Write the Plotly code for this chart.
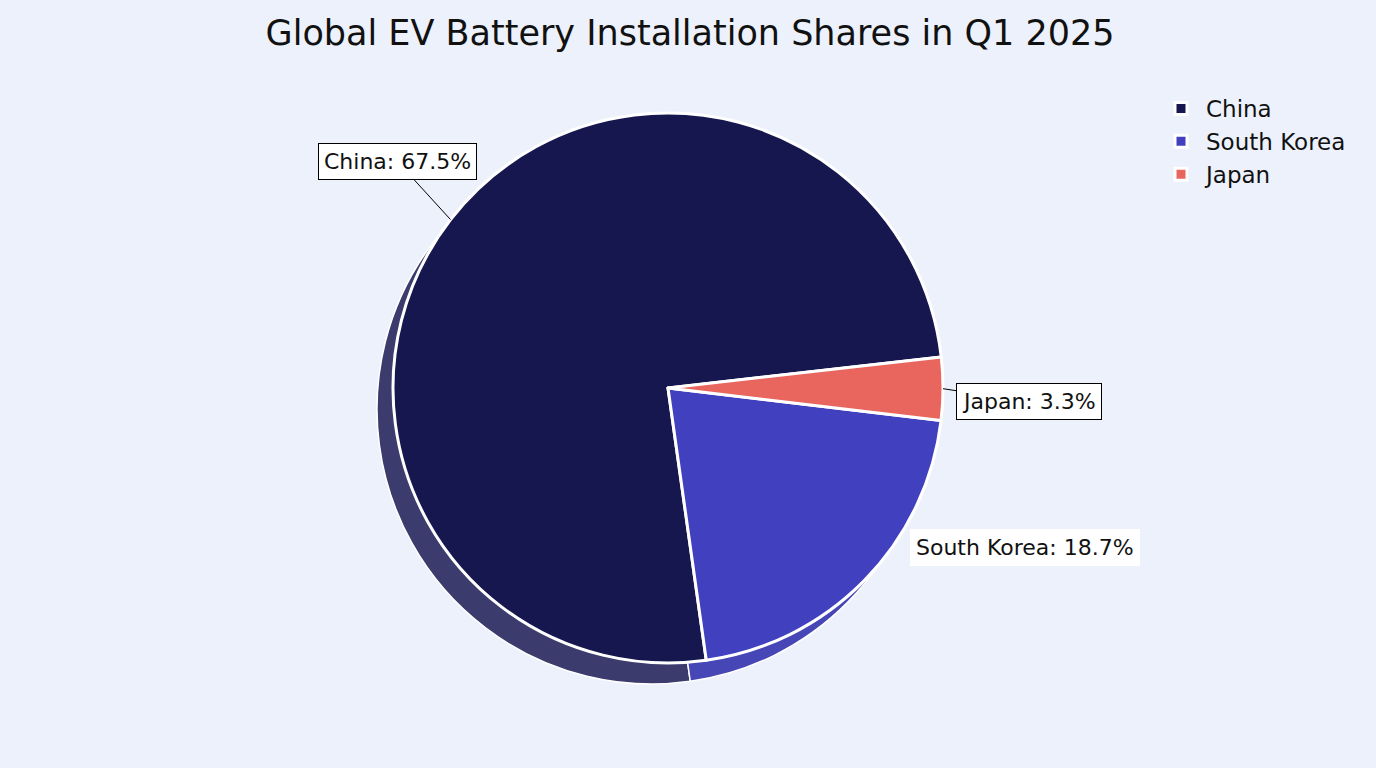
import math
import plotly.graph_objects as go

# ---- data ----
labels = ["China", "South Korea", "Japan"]
shares = [67.5, 18.7, 3.3]
colors = ["#16174f", "#4141c0", "#e9665f"]
shadow_colors = ["#3b3b6d", "#4646b6", "#d9786f"]
title_text = "Global EV Battery Installation Shares in Q1 2025"

W, H = 1376, 768
CX, CY, R = 668, 388, 275          # pie centre / radius in px
SDX, SDY = -16, 21                  # shadow offset in px
ROTATION = 172

def domain(cx, cy, r):
    return dict(x=[(cx - r) / W, (cx + r) / W],
                y=[(H - cy - r) / H, (H - cy + r) / H])

fig = go.Figure()
fig.add_trace(go.Pie(
    labels=labels, values=shares, sort=False, direction="counterclockwise",
    rotation=ROTATION, domain=domain(CX + SDX, CY + SDY, R),
    marker=dict(colors=shadow_colors, line=dict(color="white", width=1.5)),
    textinfo="none", hoverinfo="skip", showlegend=False,
))
fig.add_trace(go.Pie(
    labels=labels, values=shares, sort=False, direction="counterclockwise",
    rotation=ROTATION, domain=domain(CX, CY, R),
    marker=dict(colors=colors, line=dict(color="white", width=3)),
    textinfo="none", hovertemplate="%{label}: %{value}%<extra></extra>",
))

# label annotations placed from slice mid-angles (plotly ccw geometry)
total = sum(shares)
spans = [360 * v / total for v in shares]
offsets = {"China": (-53, -58), "South Korea": (160, -33), "Japan": (86, 13)}
annotations = []
pos = ROTATION + spans[0]           # clockwise-from-12 angle where first slice ends
for lab, v, a in zip(labels, shares, spans):
    mid_cw = pos - a / 2
    pos -= a
    t = math.radians(90 - mid_cw)
    hx = CX + R * math.cos(t)
    hy = CY - R * math.sin(t)
    ax, ay = offsets[lab]
    boxed = lab != "South Korea"
    annotations.append(dict(
        x=hx / W, y=(H - hy) / H, xref="paper", yref="paper",
        text=f"{lab}: {v}%", showarrow=True, ax=ax, ay=ay,
        arrowhead=0, arrowwidth=1,
        arrowcolor="black" if boxed else "rgba(0,0,0,0)",
        font=dict(family="DejaVu Sans", size=22, color="#111111"),
        bgcolor="white", bordercolor="black" if boxed else "white",
        borderwidth=1, borderpad=5,
    ))

fig.update_layout(
    width=W, height=H,
    margin=dict(l=0, r=0, t=0, b=0),
    paper_bgcolor="#edf1fc", plot_bgcolor="#edf1fc",
    font=dict(family="DejaVu Sans", color="#111111"),
    title=dict(text=title_text, x=0.5015, y=1 - 33 / H, xanchor="center",
               yanchor="middle", font=dict(size=35, family="DejaVu Sans", color="#111111")),
    legend=dict(x=1156 / W, y=1 - 87 / H, xanchor="left", yanchor="top",
                font=dict(size=23, family="DejaVu Sans"), bgcolor="rgba(0,0,0,0)",
                itemwidth=40, traceorder="normal"),
    annotations=annotations,
)

fig.write_html("out.html")
